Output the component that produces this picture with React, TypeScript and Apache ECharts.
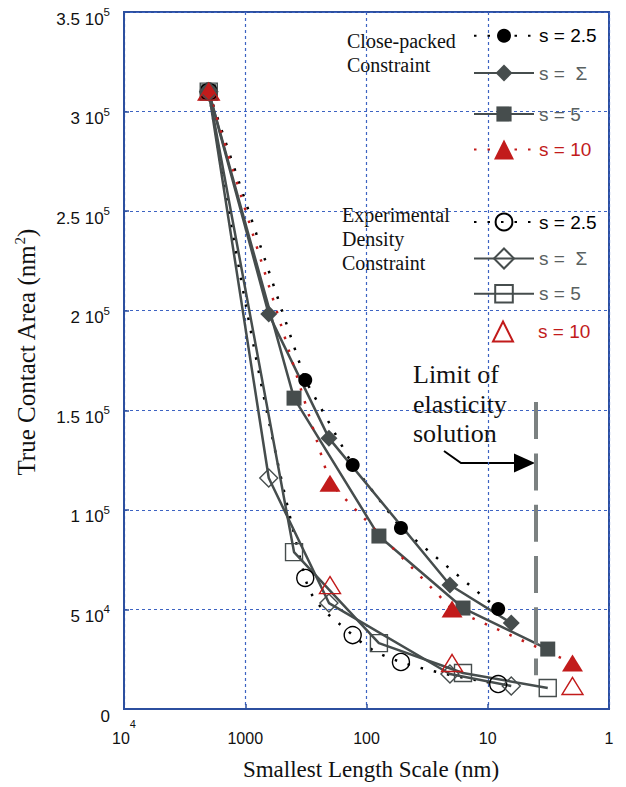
import React, { useEffect, useRef } from 'react';
import * as echarts from 'echarts';

// ---- data (smallest length scale in nm, true contact area in nm^2) ----
const lengthS25 = [2000, 320, 130, 52, 8.2];
const lengthSigma = [2000, 640, 204, 20.5, 6.4];
const lengthS5 = [2000, 396, 79, 16, 3.2];
const lengthS10 = [2000, 200, 19.7, 2];

const areaCloseS25 = [310000, 165200, 122500, 90900, 50200];
const areaCloseSigma = [310000, 198300, 136000, 62250, 43200];
const areaCloseS5 = [310000, 156100, 86850, 50700, 30100];
const areaCloseS10 = [310000, 113400, 50200, 23100];

const areaExpS25 = [310000, 65800, 37100, 23600, 12550];
const areaExpSigma = [310000, 116000, 53200, 17570, 11550];
const areaExpS5 = [310000, 78800, 33100, 18070, 10540];
const areaExpS10 = [310000, 62250, 23100, 11550];

const elasticityLimitLength = 4;
const elasticityLimitRange = [154100, 17000];

const yTickMantissa = ['0', '5', '1', '1.5', '2', '2.5', '3', '3.5'];
const yTickExponent = ['', '4', '5', '5', '5', '5', '5', '5'];
const xTickValues = [10000, 1000, 100, 10, 1];
const xTickText = ['10', '1000', '100', '10', '1'];
const xTickSup = ['4', '', '', '', ''];

const legendLabels: Record<string, string> = {
  cp25: 's = 2.5',
  cpSigma: 's =  Σ',
  cp5: 's = 5',
  cp10: 's = 10',
  ex25: 's = 2.5',
  exSigma: 's =  Σ',
  ex5: 's = 5',
  ex10: 's = 10',
};

const GRAY = '#464d4d';
const GRAY_TEXT = '#596161';
const RED = '#c21b1b';
const BLUE = '#2c4f9f';
const SANS = '"Liberation Sans", Arial, sans-serif';
const SERIF = '"Liberation Serif", "Times New Roman", serif';

const pairs = (xs: number[], ys: number[]) => xs.map((x, i) => [x, ys[i]]);

export default function App() {
  const ref = useRef<HTMLDivElement>(null);
  useEffect(() => {
    if (!ref.current) return;
    const chart = echarts.init(ref.current, null, { renderer: 'svg' });

    const dotted = (color: string) => ({ color, width: 2.5, type: [2.5, 11] as any });
    const solid = { color: GRAY, width: 2.5, type: 'solid' as const };
    const open = (color: string) => ({ color: 'rgba(255,255,255,0)', borderColor: color, borderWidth: 1.4 });

    const series: any[] = [
      { id: 'cp25', name: 'cp25', data: pairs(lengthS25, areaCloseS25), symbol: 'circle', symbolSize: 14, itemStyle: { color: '#000' }, lineStyle: dotted('#000') },
      { id: 'cpSigma', name: 'cpSigma', data: pairs(lengthSigma, areaCloseSigma), symbol: 'diamond', symbolSize: 17, itemStyle: { color: GRAY }, lineStyle: solid },
      { id: 'cp5', name: 'cp5', data: pairs(lengthS5, areaCloseS5), symbol: 'rect', symbolSize: 15, itemStyle: { color: GRAY }, lineStyle: solid },
      { id: 'cp10', name: 'cp10', data: pairs(lengthS10, areaCloseS10), symbol: 'triangle', symbolSize: [21, 17], itemStyle: { color: RED }, lineStyle: dotted(RED) },
      { id: 'ex25', name: 'ex25', data: pairs(lengthS25, areaExpS25), symbol: 'circle', symbolSize: 17, smooth: 0.4, itemStyle: open('#000'), lineStyle: dotted('#000') },
      { id: 'exSigma', name: 'exSigma', data: pairs(lengthSigma, areaExpSigma), symbol: 'diamond', symbolSize: 18, itemStyle: open(GRAY), lineStyle: solid },
      { id: 'ex5', name: 'ex5', data: pairs(lengthS5, areaExpS5), symbol: 'rect', symbolSize: 17, itemStyle: open(GRAY), lineStyle: solid },
      {
        id: 'ex10', name: 'ex10', data: pairs(lengthS10, areaExpS10), symbol: 'triangle', symbolSize: [21, 17], itemStyle: open(RED), lineStyle: { color: RED, width: 0, opacity: 0 },
        markLine: {
          silent: true, symbol: ['none', 'none'], label: { show: false },
          lineStyle: { color: '#7b8181', width: 4, type: [37, 14.3] as any },
          data: [[{ coord: [elasticityLimitLength, elasticityLimitRange[0]] }, { coord: [elasticityLimitLength, elasticityLimitRange[1]] }]],
        },
      },
    ].map((s) => ({ type: 'line', showSymbol: true, z: 3, ...s }));

    const legendRows: [string, number, number, string][] = [
      ['cp25', 35, 17.5, '#000'],
      ['cpSigma', 74, 21, GRAY_TEXT],
      ['cp5', 114, 19, GRAY_TEXT],
      ['cp10', 152, 25, RED],
      ['ex25', 223, 21, '#000'],
      ['exSigma', 260, 25, GRAY_TEXT],
      ['ex5', 295, 22, GRAY_TEXT],
      ['ex10', 333, 25, RED],
    ];
    const legend = legendRows.map(([name, y, h, color]) => ({
      data: [name],
      left: 473,
      top: y - h / 2,
      orient: 'vertical',
      padding: 0,
      itemWidth: 60,
      itemHeight: h,
      selectedMode: false,
      formatter: (n: string) => legendLabels[n],
      textStyle: { fontFamily: SANS, fontSize: 19, color, lineHeight: 14 },
    }));

    chart.setOption({
      animation: false,
      grid: { left: 124, right: 17, top: 12, bottom: 78, show: true, borderColor: BLUE, borderWidth: 2, backgroundColor: 'transparent' },
      xAxis: {
        type: 'log', logBase: 10, min: 1, max: 10000, inverse: true,
        axisLine: { show: true, lineStyle: { color: BLUE, width: 2 } },
        axisTick: { show: true, inside: true, length: 5, lineStyle: { color: BLUE, width: 1.5 } },
        minorTick: { show: false },
        splitLine: { show: true, lineStyle: { color: '#3d63c2', width: 1.2, type: [3, 3] } },
        axisLabel: {
          margin: 9,
          formatter: (v: number) => {
            const i = xTickValues.indexOf(Math.round(v));
            if (i < 0) return '';
            return xTickSup[i] ? `{m|${xTickText[i]}}{e|${xTickSup[i]}}` : `{m|${xTickText[i]}}`;
          },
          rich: {
            m: { fontFamily: SANS, fontSize: 16, color: '#111', lineHeight: 40 },
            e: { fontFamily: SANS, fontSize: 11, color: '#111', lineHeight: 11, verticalAlign: 'top' },
          },
        },
        name: 'Smallest Length Scale (nm)',
        nameLocation: 'middle',
        nameGap: 48,
        nameTextStyle: { fontFamily: SERIF, fontSize: 23, color: '#111', lineHeight: 25, padding: [0, 0, 0, 9] },
      },
      yAxis: {
        type: 'value', min: 0, max: 350000, interval: 50000,
        axisLine: { show: true, lineStyle: { color: BLUE, width: 2 } },
        axisTick: { show: true, inside: true, length: 5, lineStyle: { color: BLUE, width: 1.5 } },
        splitLine: { show: true, lineStyle: { color: '#3d63c2', width: 1.2, type: [3, 3] } },
        axisLabel: {
          margin: 14,
          padding: [14, 0, 0, 0],
          formatter: (v: number) => {
            const i = Math.round(v / 50000);
            const m = yTickMantissa[i];
            const e = yTickExponent[i];
            return e ? `{m|${m} 10}{e|${e}}` : `{m|${m}}`;
          },
          rich: {
            m: { fontFamily: SANS, fontSize: 17, color: '#111', lineHeight: 26 },
            e: { fontFamily: SANS, fontSize: 11.5, color: '#111', lineHeight: 11, verticalAlign: 'top' },
          },
        },
        name: '{a|True Contact Area (nm}{s|2}{a|)}',
        nameLocation: 'middle',
        nameRotate: 90,
        nameGap: 84,
        nameTextStyle: {
          padding: [0, 0, 0, 16],
          rich: {
            a: { fontFamily: SERIF, fontSize: 25, color: '#111', lineHeight: 28 },
            s: { fontFamily: SERIF, fontSize: 15, color: '#111', lineHeight: 15, verticalAlign: 'top' },
          },
        },
      },
      legend,
      graphic: [
        { type: 'text', x: 347, y: 29, style: { text: 'Close-packed\nConstraint', font: `20px ${SERIF}`, lineHeight: 24, fill: '#111', verticalAlign: 'top' } },
        { type: 'text', x: 342, y: 203, style: { text: 'Experimental\nDensity\nConstraint', font: `20px ${SERIF}`, lineHeight: 24, fill: '#111', verticalAlign: 'top' } },
        { type: 'text', x: 413, y: 360, style: { text: 'Limit of\nelasticity\nsolution', font: `26px ${SERIF}`, lineHeight: 29.5, fill: '#111', verticalAlign: 'top' } },
        { type: 'polyline', shape: { points: [[444, 451], [461, 463], [516, 463]] }, style: { stroke: '#000', lineWidth: 2, fill: 'none' } },
        { type: 'polygon', shape: { points: [[514, 453.5], [535, 463], [514, 472.5]] }, style: { fill: '#000' } },
      ],
      series,
    });
    return () => chart.dispose();
  }, []);

  return <div ref={ref} style={{ position: 'absolute', left: 0, top: 0, width: 626, height: 787 }} />;
}
